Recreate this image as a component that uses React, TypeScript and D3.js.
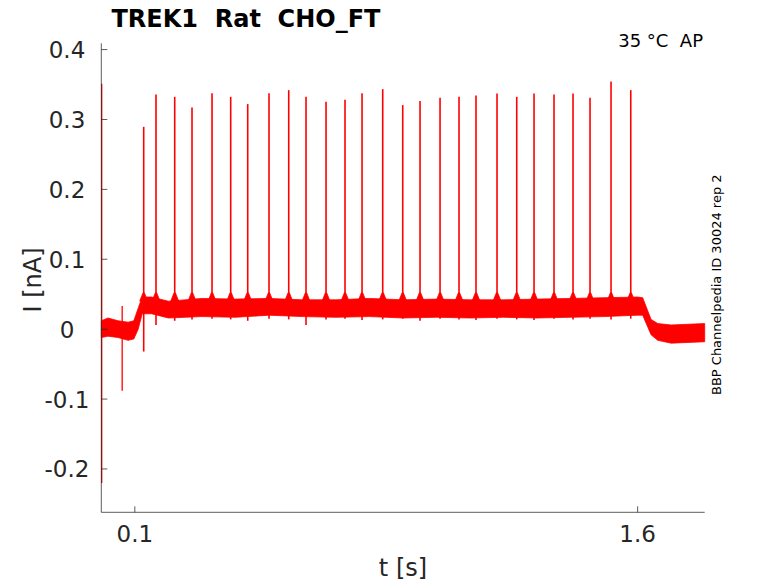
import React from 'react';
import * as d3 from 'd3';

// Spike times [s] and peak currents [nA]
const spikeTimes = [
  0.1265, 0.1632, 0.219, 0.2706, 0.3303, 0.386, 0.4368, 0.5003, 0.5591,
  0.6107, 0.6704, 0.727, 0.7778, 0.8395, 0.8992, 0.9508, 1.0105, 1.0671,
  1.1178, 1.1805, 1.2393, 1.2909, 1.3505, 1.4072, 1.4579, 1.5206, 1.5794,
];
const spikePeaks = [
  0.2895, 0.3357, 0.3324, 0.3171, 0.3377, 0.3324, 0.322, 0.3377, 0.342,
  0.3324, 0.3253, 0.3282, 0.3377, 0.3434, 0.3206, 0.3263, 0.331, 0.3324,
  0.3343, 0.3372, 0.3324, 0.3372, 0.3357, 0.3372, 0.331, 0.3543, 0.342,
];
// lowest point of the notch right under each spike
const spikeTroughs = [
  -0.032, 0.006, 0.012, 0.014, 0.015, 0.014, 0.012, 0.015, 0.014,
  0.006, 0.014, 0.015, 0.013, 0.014, 0.015, 0.012, 0.015, 0.014,
  0.013, 0.015, 0.014, 0.013, 0.015, 0.014, 0.015, 0.014, 0.015,
];
const spikeFoot = 0.052;

// noise band of the trace: time, lower edge, upper edge
const bandT = [
  0.0, 0.02, 0.05, 0.08, 0.097, 0.11, 0.122, 0.15, 0.2, 0.3, 0.4, 0.5, 0.6,
  0.7, 0.8, 0.9, 1.0, 1.1, 1.2, 1.3, 1.4, 1.5, 1.6, 1.615, 1.64, 1.66, 1.7,
  1.75, 1.8,
];
const bandLo = [
  -0.012, -0.01, -0.012, -0.016, -0.014, 0.0, 0.022, 0.022, 0.016, 0.018,
  0.017, 0.02, 0.018, 0.017, 0.018, 0.016, 0.017, 0.016, 0.017, 0.016,
  0.017, 0.018, 0.02, 0.02, -0.008, -0.016, -0.02, -0.019, -0.018,
];
const bandHi = [
  0.012, 0.016, 0.012, 0.01, 0.012, 0.03, 0.046, 0.046, 0.04, 0.044, 0.043,
  0.044, 0.042, 0.042, 0.044, 0.042, 0.043, 0.042, 0.042, 0.043, 0.044,
  0.045, 0.046, 0.045, 0.014, 0.008, 0.006, 0.007, 0.008,
];

// single-sample artefacts: time, min, max
const glitchT = [0.0012, 0.0623];
const glitchMin = [-0.22, -0.088];
const glitchMax = [0.351, 0.033];

const yTicks = [-0.2, -0.1, 0, 0.1, 0.2, 0.3, 0.4];
const yTickLabels = ['-0.2', '-0.1', '0', '0.1', '0.2', '0.3', '0.4'];
const xTicks = [0.1, 1.6];
const xTickLabels = ['0.1', '1.6'];

const W = 778;
const H = 583;
const RED = '#ff0000';
const INK = '#262626';
const FONT = 'DejaVu Sans, sans-serif';

const App: React.FC = () => {
  const x = d3.scaleLinear().domain([0, 1.8]).range([101.3, 704.7]);
  const y = d3.scaleLinear().domain([-0.262, 0.409]).range([512.3, 43.3]);

  const bandData = bandT.map((t, i) => ({ t, lo: bandLo[i], hi: bandHi[i] }));
  const area = d3.area<{ t: number; lo: number; hi: number }>()
    .x(d => x(d.t))
    .y0(d => y(d.lo))
    .y1(d => y(d.hi));

  const line = d3.line<[number, number]>()
    .x(d => x(d[0]))
    .y(d => y(d[1]));

  const [x0, x1] = x.range();
  const [yb, yt] = y.range();

  return (
    <svg width={W} height={H} style={{ position: 'absolute', left: 0, top: 0, background: '#fff' }}
      fontFamily={FONT}>
      <rect width={W} height={H} fill="#fff" />

      {/* trace */}
      <path d={area(bandData) || ''} fill={RED} stroke={RED} strokeWidth={0.8} />
      {spikeTimes.map((t, i) => (
        <g key={i}>
          <path d={line([[t - 0.012, bandHi[0] + 0.028], [t - 0.002, spikeFoot], [t + 0.002, spikeFoot], [t + 0.012, bandHi[0] + 0.028]]) || ''}
            fill={RED} stroke={RED} strokeWidth={0.8} />
          <path d={line([[t, spikeTroughs[i]], [t, spikePeaks[i]]]) || ''}
            stroke={RED} strokeWidth={1.6} fill="none" />
        </g>
      ))}
      {glitchT.map((t, i) => (
        <path key={i} d={line([[t, glitchMin[i]], [t, glitchMax[i]]]) || ''}
          stroke={RED} strokeWidth={1.3} fill="none" />
      ))}

      {/* axes */}
      <line x1={x0} x2={x0} y1={yt} y2={yb} stroke={INK} strokeOpacity={0.75} strokeWidth={1} />
      <line x1={x0} x2={x1} y1={yb} y2={yb} stroke={INK} strokeOpacity={0.75} strokeWidth={1} />
      {yTicks.map((v, i) => (
        <g key={v}>
          <line x1={x0} x2={x0 + 6} y1={y(v)} y2={y(v)} stroke={INK} strokeOpacity={0.75} />
          <text x={67} y={y(v) + 8.5} textAnchor="middle" fontSize={23} fill={INK}>{yTickLabels[i]}</text>
        </g>
      ))}
      {xTicks.map((v, i) => (
        <g key={v}>
          <line x1={x(v)} x2={x(v)} y1={yb} y2={yb - 6} stroke={INK} strokeOpacity={0.75} />
          <text x={x(v)} y={542} textAnchor="middle" fontSize={23} fill={INK}>{xTickLabels[i]}</text>
        </g>
      ))}

      <text x={403} y={576} textAnchor="middle" fontSize={24} fill={INK}>t [s]</text>
      <text transform="translate(41,280) rotate(-90)" textAnchor="middle" fontSize={24} fill={INK}>I [nA]</text>

      <text x={246} y={27} textAnchor="middle" fontSize={24} fontWeight="bold" fill="#000"
        style={{ whiteSpace: 'pre' }}>TREK1  Rat  CHO_FT</text>
      <text x={703} y={47} textAnchor="end" fontSize={18} fill="#000" style={{ whiteSpace: 'pre' }}>35 °C  AP</text>
      <text transform="translate(721,395) rotate(-90)" textAnchor="start" fontSize={13} fill="#000">BBP Channelpedia ID 30024 rep 2</text>
    </svg>
  );
};

export default App;
